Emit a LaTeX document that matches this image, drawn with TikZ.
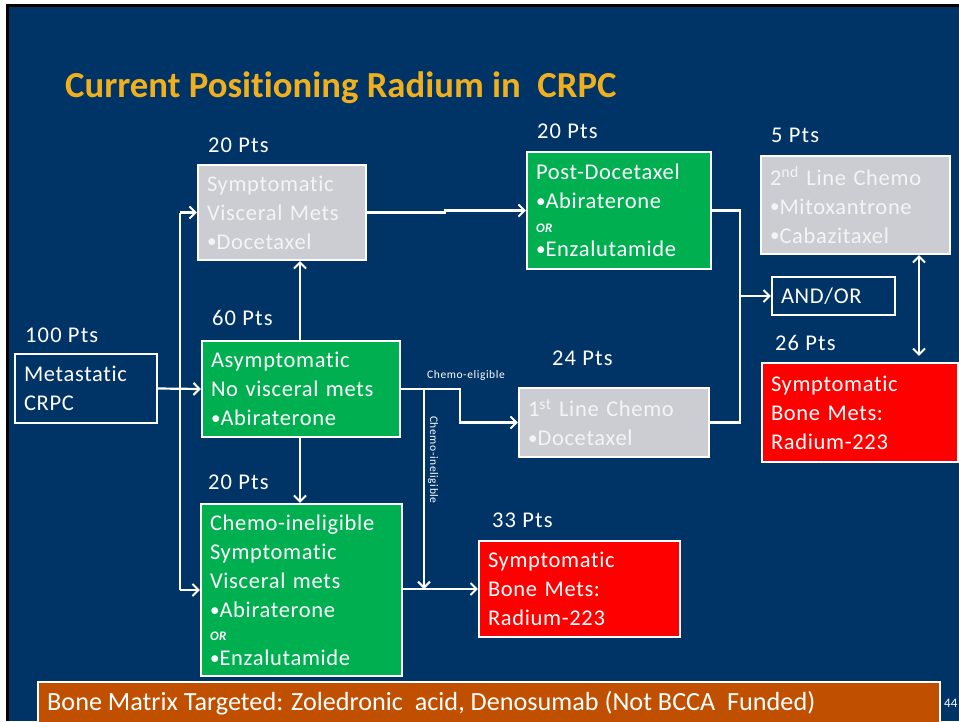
\documentclass[tikz,border=0pt]{standalone}
\usepackage{fontspec}
\setmainfont{Carlito}[Ligatures=NoCommon]
\newfontfamily\boxfont{Carlito}[LetterSpace=3,WordSpace=0.85,Ligatures=NoCommon]
\newfontfamily\ptsfont{Carlito}[LetterSpace=5,Ligatures=NoCommon]
\usetikzlibrary{arrows.meta}
\definecolor{navy}{RGB}{0,51,102}
\definecolor{gbox}{RGB}{0,176,80}
\definecolor{greybox}{RGB}{204,205,210}
\definecolor{redbox}{RGB}{255,0,0}
\definecolor{barc}{RGB}{192,80,0}
\definecolor{titlec}{RGB}{240,176,30}
\definecolor{gtext}{RGB}{244,244,246}
\tikzset{
  box/.style={draw=white, line width=2.2pt, inner xsep=9pt, inner ysep=0pt, align=left,
    font=\boxfont\fontsize{22.5}{29}\selectfont, text=white, anchor=center},
  pts/.style={anchor=west, inner sep=0pt, text=white, font=\ptsfont\fontsize{22.5}{25}\selectfont},
  conn/.style={draw=white, line width=2.2pt},
  arr/.style={conn, -{Straight Barb[length=6pt,width=12pt,line width=2pt]}},
  darr/.style={conn, {Straight Barb[length=6pt,width=12pt,line width=2pt]}-{Straight Barb[length=6pt,width=12pt,line width=2pt]}},
  small/.style={inner sep=0pt, text=white, font=\ptsfont\fontsize{11.5}{13}\selectfont},
}
\newcommand{\orline}{{\fontsize{13}{15}\selectfont\bfseries\itshape OR}}
\newcommand{\bul}{\raisebox{1.2pt}{\scalebox{0.85}{•}}}
\begin{document}
\begin{tikzpicture}[x=1pt,y=-1pt]
\useasboundingbox (0,0) rectangle (959,721);
\fill[white] (0,0) rectangle (959,721);
\fill[black] (6,4) rectangle (959,721);
\fill[navy] (9,7) rectangle (959,721);

\node[anchor=base west, inner sep=0pt, text=titlec, font=\fontsize{36.7}{40}\selectfont\bfseries] (title) at (65,97) {Current Positioning Radium in\ \ CRPC};

% boxes
\node[box, fill=navy, minimum height=69pt, text width=124pt] (meta) at (86,388.5) {Metastatic\\CRPC};
\node[box, fill=greybox, text=gtext, minimum height=95pt, text width=150pt] (svm) at (282,212.5) {Symptomatic\\Visceral Mets\\\bul Docetaxel};
\node[box, fill=gbox, minimum height=96pt, text width=180pt] (asym) at (301,389) {Asymptomatic\\No visceral mets\\\bul Abiraterone};
\node[box, fill=gbox, minimum height=172pt, text width=183pt] (cine) at (301.5,590) {Chemo-ineligible\\Symptomatic\\Visceral mets\\\bul Abiraterone\\[-6pt]\orline\\[-4pt]\bul Enzalutamide};
\node[box, fill=gbox, minimum height=117pt, text width=166pt] (post) at (619,210.5) {Post-Docetaxel\\\bul Abiraterone\\[-5pt]\orline\\[-5pt]\bul Enzalutamide};
\node[box, fill=greybox, text=gtext, minimum height=98pt, text width=171pt] (second) at (855.5,205) {2\textsuperscript{nd} Line Chemo\\\bul Mitoxantrone\\\bul Cabazitaxel};
\node[box, fill=navy, minimum height=38pt, text width=105pt] (andor) at (833.5,296) {AND/OR};
\node[box, fill=greybox, text=gtext, minimum height=69pt, text width=172pt] (first) at (614,422.5) {1\textsuperscript{st} Line Chemo\\\bul Docetaxel};
\node[box, fill=redbox, minimum height=99pt, text width=178pt] (red1) at (860,412.5) {Symptomatic\\Bone Mets:\\Radium-223};
\node[box, fill=redbox, minimum height=96pt, text width=183pt] (red2) at (579.5,589) {Symptomatic\\Bone Mets:\\Radium-223};

% pts labels
\node[pts] (p100) at (25,335) {100 Pts};
\node[pts] (p20a) at (208,145) {20 Pts};
\node[pts] (p60) at (212,318) {60 Pts};
\node[pts] (p20b) at (208,482) {20 Pts};
\node[pts] (p20c) at (537,131) {20 Pts};
\node[pts] (p5) at (771,135) {5 Pts};
\node[pts] (p24) at (552,358) {24 Pts};
\node[pts] (p26) at (775,343) {26 Pts};
\node[pts] (p33) at (492,520) {33 Pts};

% connectors
\coordinate (t1) at (180,212.5);
\coordinate (t2) at (180,590);
\draw[arr] (meta.east) -- (asym.west);
\draw[conn] (t1) -- (t2);
\draw[arr] (t1) -- (svm.west);
\draw[arr] (t2) -- (cine.west);
\draw[arr] (asym.north -| 300,0) -- (svm.south -| 300,0);
\draw[arr] (asym.south -| 300,0) -- (cine.north -| 300,0);
\coordinate (e1) at (460,389);
\draw[arr] (asym.east) -- (e1) |- (first.west);
\coordinate (ci) at (424,389);
\coordinate (cj) at (424,589);
\draw[arr] (ci) -- (cj);
\draw[arr] (cine.east |- red2.west) -- (red2.west);
\coordinate (j1) at (445,212.5);
\draw[arr] (svm.east) -- (j1) |- (post.west);
\coordinate (m1) at (740,210.5);
\draw[conn] (post.east) -- (m1) -- (740,296);
\draw[arr] (740,296) -- (andor.west);
\draw[conn] (first.east) -| (740,296);
\coordinate (da) at (919,0);
\draw[darr, shorten >=6pt] (second.south -| da) -- (red1.north -| da);

\node[small] (celig) at (466,375) {Chemo-eligible};
\node[small, rotate=-90] (cinel) at (433,460) {Chemo-ineligible};

% bottom bar
\draw[fill=barc, draw=white, line width=1.5pt] (38,682) rectangle (940,725);
\node[anchor=west, inner sep=0pt, text=white, font=\fontsize{26.2}{30}\selectfont] (bar) at (47,703) {Bone Matrix Targeted: Zoledronic\ \ acid, Denosumab (Not BCCA\ \ Funded)};
\node[anchor=west, inner sep=0pt, text=white, font=\fontsize{13}{15}\selectfont] (pg) at (944,703) {44};
\end{tikzpicture}
\end{document}
